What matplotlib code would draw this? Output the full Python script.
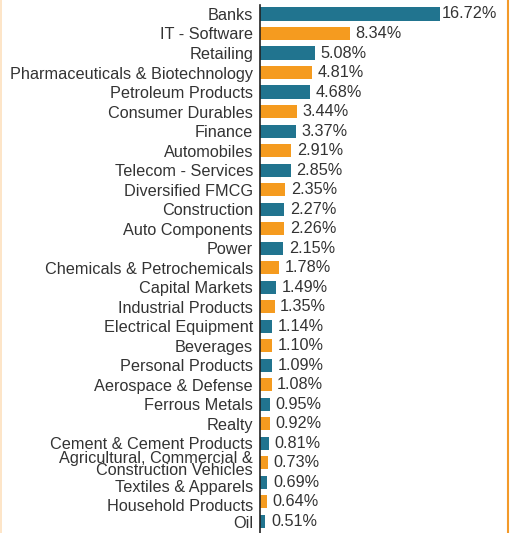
import matplotlib.pyplot as plt
from matplotlib.lines import Line2D
from matplotlib.transforms import ScaledTranslation

plt.rcParams["font.family"] = ["Liberation Sans", "DejaVu Sans"]

sectors = ["Banks", "IT - Software", "Retailing", "Pharmaceuticals & Biotechnology",
           "Petroleum Products", "Consumer Durables", "Finance", "Automobiles",
           "Telecom - Services", "Diversified FMCG", "Construction", "Auto Components",
           "Power", "Chemicals & Petrochemicals", "Capital Markets", "Industrial Products",
           "Electrical Equipment", "Beverages", "Personal Products", "Aerospace & Defense",
           "Ferrous Metals", "Realty", "Cement & Cement Products",
           "Agricultural, Commercial &\nConstruction Vehicles", "Textiles & Apparels",
           "Household Products", "Oil"]
weights = [16.72, 8.34, 5.08, 4.81, 4.68, 3.44, 3.37, 2.91, 2.85, 2.35, 2.27, 2.26,
           2.15, 1.78, 1.49, 1.35, 1.14, 1.10, 1.09, 1.08, 0.95, 0.92, 0.81, 0.73,
           0.69, 0.64, 0.51]

teal = "#21748f"
orange = "#f59b1f"
colors = [teal if i % 2 == 0 else orange for i in range(len(sectors))]

W, H = 516, 533
fig = plt.figure(figsize=(W / 100, H / 100), dpi=100)
ax = fig.add_axes([260 / W, 0, 240 / W, 528 / H])

y = list(range(len(sectors)))
ax.barh(y, weights, height=0.67, color=colors)
ax.set_ylim(26.6, -0.46)
ax.set_xlim(0, 240 / 10.77)

for yi, w in zip(y, weights):
    off = 1.5 if w > 10 else 4
    ax.annotate(f"{w:.2f}%", (w, yi), xytext=(off, 0), textcoords="offset points",
                va="center", ha="left", fontsize=11.7, color="#333333")

ax.set_yticks(y)
ax.set_yticklabels(sectors, fontsize=11.7, color="#333333", linespacing=0.7)
ax.tick_params(axis="y", length=0, pad=5)
ax.set_xticks([])

# labels below the two-line one sit a little lower in the original
shift = {"Agricultural, Commercial &\nConstruction Vehicles": 2,
         "Textiles & Apparels": 4, "Household Products": 3, "Oil": 1}
for lab in ax.get_yticklabels():
    dy = shift.get(lab.get_text(), 0)
    if dy:
        lab.set_transform(lab.get_transform() + ScaledTranslation(0, -dy / 100, fig.dpi_scale_trans))

for s in ["top", "right", "bottom"]:
    ax.spines[s].set_visible(False)
ax.spines["left"].set_color("#222222")
ax.spines["left"].set_linewidth(1.2)

# card borders
fig.add_artist(Line2D([507.5 / W, 507.5 / W], [0, 1], color="#f39a2a", lw=1.5))
fig.add_artist(Line2D([0.5 / W, 0.5 / W], [0, 1], color="#fde0bd", lw=1.2))

fig.savefig("out.png", dpi=100)
